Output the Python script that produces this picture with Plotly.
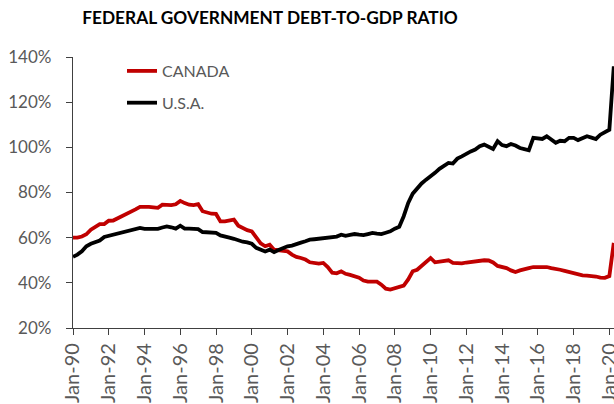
import plotly.graph_objects as go
import pandas as pd

# Quarterly data, 1990Q1 .. 2020Q2 (percent of GDP)
dates = pd.date_range("1990-01-01", "2020-04-01", freq="QS")

canada = [
    60.0, 60.0, 60.5, 61.5,
    63.5, 65.0, 66.0, 66.0,
    67.5, 67.6, 68.5, 69.4,
    70.5, 71.5, 72.5, 73.6,
    73.8, 73.6, 73.4, 73.2,
    74.6, 74.3, 74.4, 74.8,
    76.3, 75.3, 74.6, 74.4,
    74.8, 71.7, 71.0, 70.6,
    70.5, 67.2, 67.2, 67.5,
    68.0, 65.3, 64.2, 63.3,
    62.8, 60.3, 57.5, 56.2,
    56.9, 54.7, 54.5, 54.3,
    53.9, 52.5, 51.5, 51.0,
    50.3, 49.1, 48.7, 48.5,
    48.8, 47.0, 44.5, 44.2,
    45.1, 44.0, 43.5, 42.9,
    42.3, 41.0, 40.5, 40.5,
    40.5, 39.2, 37.4, 37.0,
    37.5, 37.9, 38.8, 41.5,
    45.1, 45.8, 47.5, 48.8,
    51.0, 49.1, 49.4, 49.6,
    50.0, 48.8, 48.5, 48.6,
    49.0, 49.2, 49.5, 50.0,
    50.0, 49.9, 49.0, 47.5,
    47.0, 46.5, 45.5, 44.8,
    45.5, 45.8, 46.5, 47.0,
    47.0, 47.0, 47.0, 46.5,
    46.3, 45.8, 45.3, 44.8,
    44.2, 43.8, 43.3, 43.2,
    43.2, 42.8, 42.3, 42.2,
    43.0, 57.7,
]

usa = [
    51.5, 52.5, 54.0, 56.2,
    57.3, 58.0, 58.7, 60.3,
    60.8, 61.3, 62.0, 62.5,
    62.8, 63.4, 64.0, 64.3,
    63.9, 63.9, 63.9, 63.9,
    64.5, 65.0, 64.6, 64.0,
    65.3, 64.0, 64.0, 64.0,
    63.8, 62.5, 62.3, 62.2,
    62.1, 61.0, 60.3, 60.0,
    59.5, 58.8, 58.2, 57.9,
    57.3, 55.5, 54.5, 53.9,
    54.7, 53.6, 54.5, 55.4,
    56.2, 56.5, 57.3, 57.8,
    58.4, 59.1, 59.3, 59.6,
    60.0, 60.2, 60.3, 60.5,
    61.3, 60.8, 61.2, 61.6,
    61.3, 61.1, 61.6, 62.1,
    61.8, 61.6, 62.2, 62.8,
    64.0, 64.8, 69.5, 75.4,
    79.5, 82.0, 84.0, 85.7,
    87.0, 88.7, 90.5, 91.6,
    93.1, 92.8, 95.0, 96.0,
    97.2, 98.2, 99.0, 100.5,
    101.2, 100.4, 99.3, 102.7,
    101.0, 100.5, 101.5, 100.8,
    99.7, 99.2, 98.7, 104.2,
    103.9, 103.7, 104.9, 103.5,
    102.0, 102.9, 102.7, 104.2,
    104.2, 103.2, 104.0, 104.9,
    104.3, 103.7, 105.6, 106.5,
    107.8, 135.9,
]

series_names = ["CANADA", "U.S.A."]
series_colors = ["#C00000", "#000000"]
y_ticks = [20, 40, 60, 80, 100, 120, 140]
y_tick_labels = [f"{v}%" for v in y_ticks]

fig = go.Figure()
for name, vals, col in zip(series_names, [canada, usa], series_colors):
    fig.add_trace(go.Scatter(
        x=dates, y=vals, mode="lines", name=name, legendgroup=name,
        line=dict(color=col, width=3.8),
    ))

axis_col = "#404040"
tick_font = dict(family="Lato, sans-serif", size=17, color="#595959")
xtick_font = dict(family="Lato, sans-serif", size=20, color="#595959")

fig.update_layout(
    width=614, height=404,
    margin=dict(l=73, r=0, t=57, b=76),
    paper_bgcolor="white", plot_bgcolor="white",
    title=dict(
        text="<b>FEDERAL GOVERNMENT DEBT-TO-GDP RATIO</b>",
        font=dict(family="Lato, sans-serif", size=17.3, color="#000000"),
        x=270 / 614, xanchor="center", xref="container",
        y=1 - 18 / 404, yanchor="middle", yref="container",
    ),
    showlegend=True,
    legend=dict(
        x=(122 - 73) / 541, y=1.0 + 3 / 271, xanchor="left", yanchor="top",
        font=dict(family="Lato, sans-serif", size=16, color="#595959"),
        bgcolor="rgba(0,0,0,0)", tracegroupgap=8,
        traceorder="grouped",
    ),
    xaxis=dict(
        type="date",
        range=["1990-01-01", "2020-04-05"],
        tick0="1990-01-01", dtick="M24", tickformat="%b-%y",
        tickangle=-90, ticks="outside", ticklen=6, tickcolor=axis_col,
        showline=True, linecolor=axis_col, linewidth=1.3,
        showgrid=False, zeroline=False, ticklabeloverflow="allow",
        tickfont=xtick_font, automargin=False,
    ),
    yaxis=dict(
        range=[20, 140], tickvals=y_ticks, ticktext=y_tick_labels,
        ticks="outside", ticklen=6, tickcolor=axis_col,
        showline=True, linecolor=axis_col, linewidth=1.3,
        showgrid=False, zeroline=False,
        tickfont=tick_font, automargin=False, ticklabelstandoff=11,
    ),
)

fig.write_html(
    "out.html",
    config={"displayModeBar": False},
    post_script="document.body.style.margin='0px';document.body.style.overflow='hidden';",
)
